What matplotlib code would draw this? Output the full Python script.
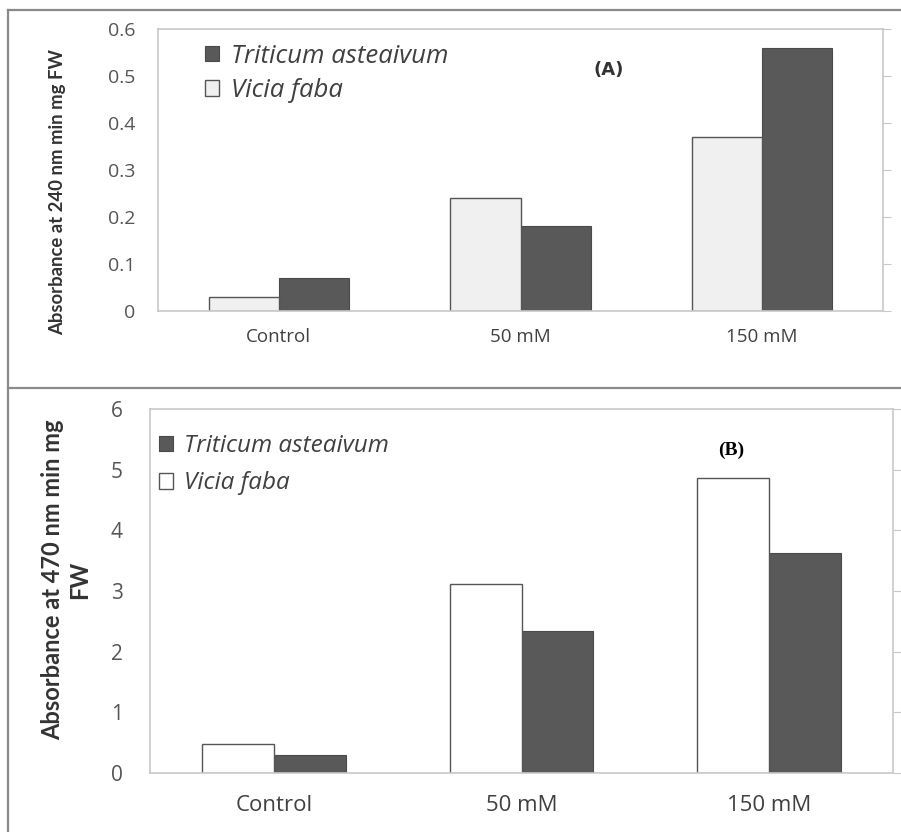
import matplotlib
matplotlib.use("Agg")
import matplotlib.pyplot as plt
from matplotlib.lines import Line2D
import numpy as np

plt.rcParams["font.family"] = ["Open Sans", "DejaVu Sans"]

categories = ["Control", "50 mM", "150 mM"]
species = ["Triticum asteaivum", "Vicia faba"]

# (A) absorbance at 240 nm
cat_a_vicia = [0.03, 0.24, 0.37]
cat_a_triticum = [0.07, 0.18, 0.56]

# (B) absorbance at 470 nm
pox_b_vicia = [0.48, 3.12, 4.87]
pox_b_triticum = [0.30, 2.34, 3.62]

W, H = 901, 832
fig = plt.figure(figsize=(W / 100, H / 100), dpi=100)


def px_axes(left, top, right, bottom):
    return fig.add_axes([left / W, 1 - bottom / H, (right - left) / W, (bottom - top) / H])


# outer panel frame
frame_kw = dict(color="#8a8a8a", lw=1.6, transform=fig.transFigure)
fig.add_artist(Line2D([8 / W, 1], [1 - 10 / H] * 2, **frame_kw))
fig.add_artist(Line2D([8 / W, 1], [1 - 388 / H] * 2, **frame_kw))
fig.add_artist(Line2D([8 / W] * 2, [0, 1 - 10 / H], **frame_kw))

DARK = "#595959"
GRID = "#c8c8c8"


def style_axes(ax, ymax, step, tick_size, pad, xt_size, xpad):
    x = np.arange(len(categories))
    ax.set_xlim(-0.5, len(categories) - 0.5)
    ax.set_ylim(0, ymax)
    ax.set_yticks(np.arange(0, ymax + step / 2, step))
    ax.set_xticks(x)
    ax.set_xticklabels(categories)
    for s in ax.spines.values():
        s.set_color(GRID)
        s.set_linewidth(1.2)
    ax.tick_params(axis="y", length=0, pad=pad, labelsize=tick_size, labelcolor="#555555")
    ax.tick_params(axis="x", length=0, pad=xpad, labelsize=xt_size, labelcolor="#404040")
    # unlabelled ticks on the right spine
    rax = ax.twinx()
    rax.set_ylim(0, ymax)
    rax.set_yticks(np.arange(0, ymax + step / 2, step))
    rax.tick_params(axis="y", direction="out", length=6, color=GRID, labelright=False)
    for s in rax.spines.values():
        s.set_visible(False)
    return x


bw = 0.29

# ---- panel A ----
ax1 = px_axes(158, 29, 883, 311)
x = style_axes(ax1, 0.6, 0.1, 14, 16.5, 13.5, 12)
b_tri = ax1.bar(x + bw / 2, cat_a_triticum, bw, color=DARK, edgecolor="#4a4a4a", lw=0.8)
b_vic = ax1.bar(x - bw / 2, cat_a_vicia, bw, color="#f0f0f0", edgecolor="#555555", lw=1.0)
ax1.set_yticklabels(["0", "0.1", "0.2", "0.3", "0.4", "0.5", "0.6"])
ax1.legend([b_tri, b_vic], species, loc="upper left", bbox_to_anchor=(0.033, 1.03),
           frameon=False, prop=dict(style="italic", size=18.5), handlelength=0.55,
           handleheight=0.55, handletextpad=0.45, labelspacing=0.36, labelcolor="#404040")
ax1.text(0.622, 0.855, "(A)", transform=ax1.transAxes, fontsize=13, fontweight="bold",
         family="DejaVu Sans", color="#333333", ha="center", va="center")
fig.text(58 / W, 1 - 192 / H, "Absorbance at 240 nm min mg FW", rotation=90,
         ha="center", va="center", fontsize=13.3, fontweight="bold", color="#333333",
         family="Lato")

# ---- panel B ----
ax2 = px_axes(150, 409, 893, 773)
x = style_axes(ax2, 6, 1, 15, 19.5, 16, 16)
b_tri = ax2.bar(x + bw / 2, pox_b_triticum, bw, color=DARK, edgecolor="#4a4a4a", lw=0.8)
b_vic = ax2.bar(x - bw / 2, pox_b_vicia, bw, color="white", edgecolor="#555555", lw=1.0)
ax2.legend([b_tri, b_vic], species, loc="upper left", bbox_to_anchor=(-0.018, 0.992),
           frameon=False, prop=dict(style="italic", size=17.5), handlelength=0.6,
           handleheight=0.6, handletextpad=0.45, labelspacing=0.56, labelcolor="#404040")
ax2.text(0.782, 0.887, "(B)", transform=ax2.transAxes, fontsize=14, fontweight="bold",
         family="Liberation Serif", color="black", ha="center", va="center")
fig.text(66 / W, 1 - 580 / H, "Absorbance at 470 nm min mg\nFW", rotation=90,
         ha="center", va="center", multialignment="center", fontsize=17,
         fontweight="bold", color="#333333", linespacing=1.2, family="Lato")

fig.savefig("out.png", dpi=100)
